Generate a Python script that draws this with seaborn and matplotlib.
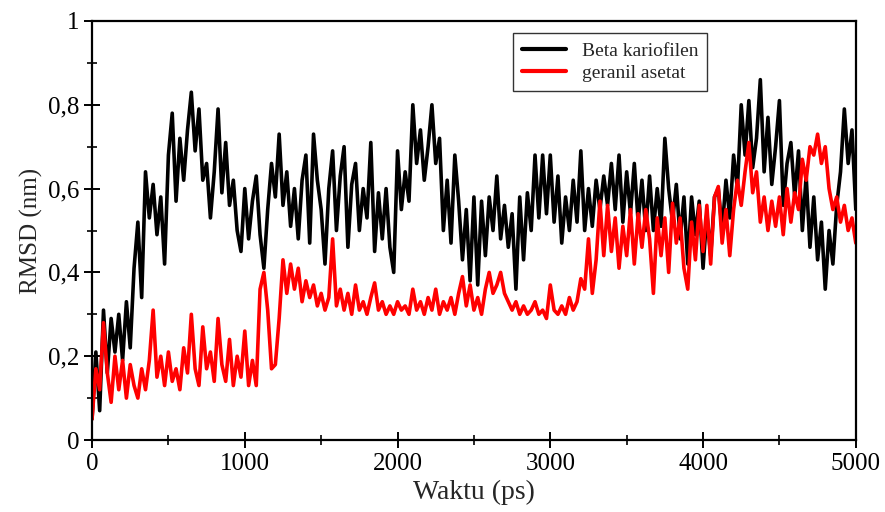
import numpy as np
import pandas as pd
import matplotlib
matplotlib.use("Agg")
import matplotlib.pyplot as plt
from matplotlib.ticker import MultipleLocator, FixedLocator
from matplotlib.lines import Line2D
import seaborn as sns

# time axis (ps), one reading every 25 ps
time_ps = list(range(0, 5001, 25))

beta_kariofilen = [
    0.05, 0.21, 0.07, 0.31, 0.16, 0.29, 0.21, 0.30, 0.19, 0.33,
    0.22, 0.41, 0.52, 0.34, 0.64, 0.53, 0.61, 0.49, 0.58, 0.42,
    0.68, 0.78, 0.57, 0.72, 0.62, 0.74, 0.83, 0.69, 0.79, 0.62,
    0.66, 0.53, 0.64, 0.79, 0.59, 0.71, 0.56, 0.62, 0.50, 0.45,
    0.60, 0.48, 0.57, 0.63, 0.49, 0.41, 0.55, 0.66, 0.58, 0.73,
    0.56, 0.64, 0.51, 0.60, 0.48, 0.62, 0.68, 0.47, 0.73, 0.62,
    0.55, 0.42, 0.60, 0.69, 0.50, 0.63, 0.70, 0.46, 0.61, 0.66,
    0.50, 0.60, 0.53, 0.71, 0.45, 0.59, 0.48, 0.60, 0.46, 0.40,
    0.69, 0.55, 0.64, 0.57, 0.80, 0.66, 0.74, 0.62, 0.70, 0.80,
    0.66, 0.72, 0.50, 0.62, 0.47, 0.68, 0.57, 0.43, 0.55, 0.38,
    0.58, 0.37, 0.57, 0.44, 0.58, 0.50, 0.63, 0.48, 0.56, 0.46,
    0.54, 0.36, 0.58, 0.43, 0.59, 0.50, 0.68, 0.53, 0.68, 0.54,
    0.68, 0.52, 0.63, 0.47, 0.58, 0.50, 0.62, 0.52, 0.69, 0.50,
    0.60, 0.51, 0.62, 0.55, 0.63, 0.56, 0.66, 0.55, 0.68, 0.52,
    0.64, 0.54, 0.66, 0.52, 0.62, 0.50, 0.63, 0.50, 0.60, 0.51,
    0.72, 0.60, 0.52, 0.61, 0.48, 0.58, 0.42, 0.58, 0.49, 0.57,
    0.41, 0.54, 0.44, 0.58, 0.60, 0.50, 0.62, 0.53, 0.68, 0.60,
    0.80, 0.68, 0.81, 0.65, 0.72, 0.86, 0.64, 0.77, 0.61, 0.70,
    0.81, 0.56, 0.66, 0.71, 0.58, 0.69, 0.50, 0.63, 0.46, 0.58,
    0.43, 0.52, 0.36, 0.50, 0.42, 0.56, 0.64, 0.79, 0.66, 0.74,
    0.55,
]

geranil_asetat = [
    0.05, 0.17, 0.12, 0.28, 0.16, 0.09, 0.20, 0.12, 0.19, 0.10,
    0.18, 0.13, 0.10, 0.17, 0.12, 0.19, 0.31, 0.15, 0.20, 0.13,
    0.21, 0.14, 0.17, 0.12, 0.22, 0.16, 0.30, 0.17, 0.13, 0.27,
    0.17, 0.21, 0.14, 0.29, 0.18, 0.14, 0.24, 0.13, 0.20, 0.15,
    0.26, 0.13, 0.19, 0.13, 0.36, 0.40, 0.31, 0.17, 0.18, 0.29,
    0.43, 0.35, 0.42, 0.36, 0.41, 0.33, 0.38, 0.34, 0.37, 0.32,
    0.35, 0.31, 0.34, 0.48, 0.32, 0.36, 0.31, 0.35, 0.30, 0.37,
    0.31, 0.33, 0.30, 0.34, 0.375, 0.31, 0.33, 0.30, 0.32, 0.30,
    0.33, 0.31, 0.32, 0.30, 0.36, 0.31, 0.33, 0.30, 0.34, 0.31,
    0.36, 0.30, 0.33, 0.31, 0.34, 0.30, 0.35, 0.39, 0.32, 0.37,
    0.31, 0.34, 0.30, 0.36, 0.40, 0.35, 0.37, 0.40, 0.35, 0.33,
    0.31, 0.33, 0.30, 0.32, 0.30, 0.31, 0.33, 0.30, 0.31, 0.29,
    0.37, 0.31, 0.30, 0.32, 0.30, 0.34, 0.31, 0.33, 0.385, 0.36,
    0.48, 0.35, 0.43, 0.57, 0.44, 0.56, 0.45, 0.53, 0.41, 0.51,
    0.44, 0.55, 0.42, 0.54, 0.46, 0.55, 0.48, 0.35, 0.53, 0.44,
    0.53, 0.40, 0.565, 0.47, 0.53, 0.41, 0.36, 0.52, 0.43, 0.56,
    0.45, 0.56, 0.42, 0.58, 0.605, 0.47, 0.55, 0.44, 0.55, 0.62,
    0.56, 0.64, 0.71, 0.59, 0.64, 0.52, 0.58, 0.50, 0.57, 0.51,
    0.58, 0.49, 0.60, 0.52, 0.59, 0.55, 0.67, 0.62, 0.70, 0.68,
    0.73, 0.66, 0.70, 0.60, 0.55, 0.58, 0.52, 0.56, 0.50, 0.53,
    0.47,
]

series_names = ["Beta kariofilen", "geranil asetat"]
series_colors = ["#000000", "#ff0000"]

y_tick_values = [0, 0.2, 0.4, 0.6, 0.8, 1.0]
y_tick_labels = ["0", "0,2", "0,4", "0,6", "0,8", "1"]
x_tick_values = [0, 1000, 2000, 3000, 4000, 5000]
x_tick_labels = ["0", "1000", "2000", "3000", "4000", "5000"]

df = pd.DataFrame({
    "Waktu": time_ps * 2,
    "RMSD": beta_kariofilen + geranil_asetat,
    "series": [series_names[0]] * len(time_ps) + [series_names[1]] * len(time_ps),
})

sns.set_style("white")
plt.rcParams["font.family"] = ["Liberation Serif", "DejaVu Serif"]

fig = plt.figure(figsize=(8.85, 5.12), dpi=100)
ax = fig.add_axes([0.104, 0.1406, 0.863, 0.8184])

sns.lineplot(data=df, x="Waktu", y="RMSD", hue="series",
             palette=dict(zip(series_names, series_colors)),
             linewidth=2.6, ax=ax, legend=False, estimator=None, sort=False)

ax.set_xlim(0, 5000)
ax.set_ylim(0, 1)
ax.xaxis.set_major_locator(FixedLocator(x_tick_values))
ax.set_xticklabels(x_tick_labels)
ax.xaxis.set_minor_locator(MultipleLocator(500))
ax.yaxis.set_major_locator(FixedLocator(y_tick_values))
ax.set_yticklabels(y_tick_labels)
ax.yaxis.set_minor_locator(MultipleLocator(0.1))

for s in ax.spines.values():
    s.set_linewidth(1.6)
    s.set_color("black")

ax.tick_params(which="major", direction="inout", length=12, width=1.4,
               labelsize=18, pad=3, colors="black", bottom=True, left=True)
ax.tick_params(which="minor", direction="inout", length=7, width=1.4,
               bottom=True, left=True)
ax.tick_params(top=False, right=False, which="both")

ax.set_xlabel("Waktu (ps)", fontsize=20, labelpad=4)
ax.set_ylabel("RMSD (nm)", fontsize=18, labelpad=4)

handles = [Line2D([0], [0], color=c, lw=3) for c in series_colors]
leg = ax.legend(handles, series_names, loc="upper left",
                bbox_to_anchor=(0.551, 0.971), borderaxespad=0,
                fontsize=14, frameon=True, fancybox=False, shadow=False,
                handlelength=2.3, handletextpad=0.8, borderpad=0.45,
                labelspacing=0.25)
leg.get_frame().set_edgecolor("black")
leg.get_frame().set_linewidth(1.0)

fig.savefig("out.png", dpi=100)
